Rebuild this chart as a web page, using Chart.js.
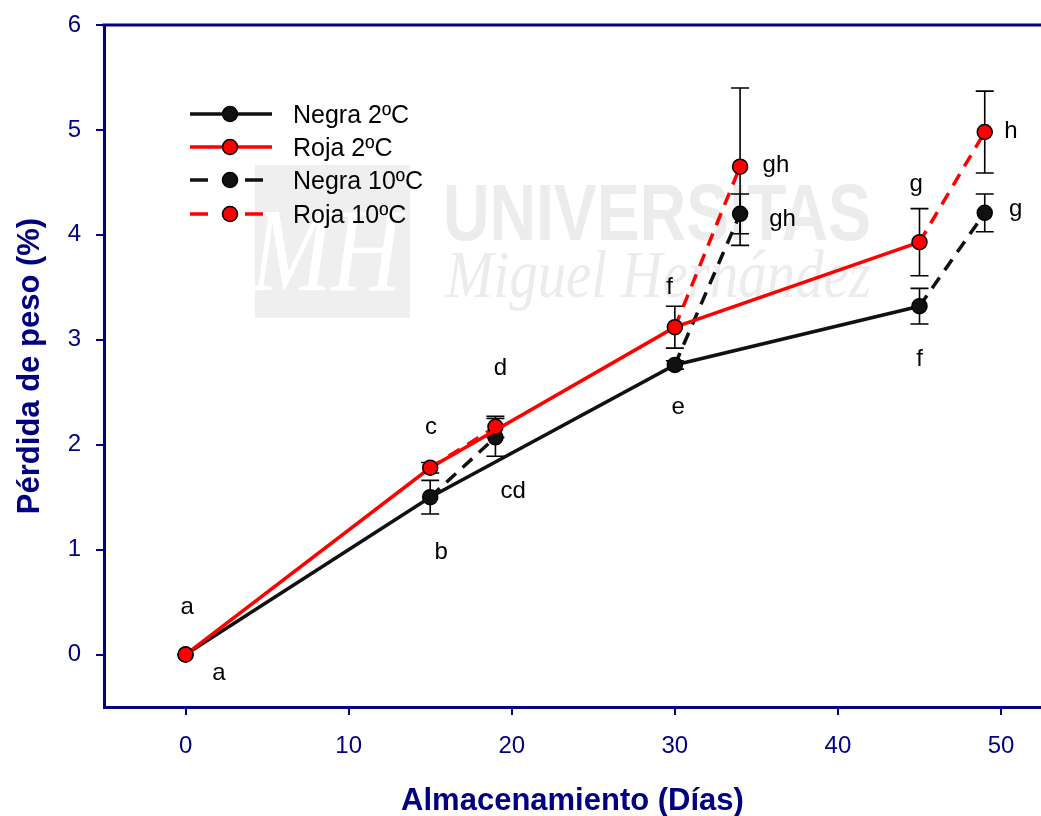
<!DOCTYPE html>
<html>
<head>
<meta charset="utf-8">
<script src="https://cdn.jsdelivr.net/npm/chart.js@4.4.1/dist/chart.umd.min.js"></script>
<style>
  html, body { margin: 0; padding: 0; background: #fff; overflow: hidden; }
  canvas { display: block; }
</style>
</head>
<body>
<canvas id="chart" width="1041" height="816"></canvas>
<script>
// Storage days and weight loss (%) with standard errors
const days2 = [0, 15, 30, 45];
const days10 = [19, 34, 49];
const negra2 = [0, 1.50, 2.76, 3.32];
const negra2Err = [0, 0.16, 0.04, 0.17];
const roja2 = [0, 1.78, 3.12, 3.93];
const roja2Err = [0, 0.05, 0.20, 0.32];
const negra10 = [2.07, 4.20, 4.21];
const negra10Err = [0.18, 0.19, 0.18];
const roja10 = [2.17, 4.65, 4.98];
const roja10Err = [0.10, 0.75, 0.39];
const xTicks = [0, 10, 20, 30, 40, 50];
const yTicks = [0, 1, 2, 3, 4, 5, 6];
const seriesNames = ['Negra 2ºC', 'Roja 2ºC', 'Negra 10ºC', 'Roja 10ºC'];

// Significance letters placed in data coordinates
const letterText = ['a', 'a', 'c', 'b', 'd', 'cd', 'f', 'e', 'gh', 'gh', 'g', 'f', 'h', 'g'];
const letterX = [0.1, 2.05, 15.05, 15.67, 19.3, 20.08, 29.67, 30.2, 36.2, 36.6, 44.8, 45.0, 50.6, 50.9];
const letterY = [0.39, -0.24, 2.10, 0.915, 2.66, 1.49, 3.44, 2.29, 4.60, 4.08, 4.42, 2.75, 4.92, 4.18];

const NAVY = '#000080';
const BASE_FONT = '"Liberation Sans", Arial, sans-serif';

// 10ºC curves start from the 2ºC point of the previous sampling day
function dashedSeries(startVals, vals) {
  const out = [];
  for (let i = 0; i < days10.length; i++) {
    out.push({ x: days2[i + 1], y: startVals[i + 1], start: true });
    out.push({ x: days10[i], y: vals[i] });
    if (i < days10.length - 1) out.push({ x: days10[i], y: null });
  }
  return out;
}

const solidData = (vals) => days2.map((d, i) => ({ x: d, y: vals[i] }));
const radiusFn = (ctx) => (ctx.raw && ctx.raw.start ? 0 : 7.5);

const errorSets = [
  { xs: days2, ys: negra2, es: negra2Err },
  { xs: days2, ys: roja2, es: roja2Err },
  { xs: days10, ys: negra10, es: negra10Err },
  { xs: days10, ys: roja10, es: roja10Err }
];

const background = {
  id: 'background',
  beforeDraw(chart) {
    const ctx = chart.ctx;
    ctx.save();
    ctx.fillStyle = '#ffffff';
    ctx.fillRect(0, 0, chart.width, chart.height);
    ctx.restore();
  }
};

const watermark = {
  id: 'watermark',
  beforeDatasetsDraw(chart) {
    const ctx = chart.ctx;
    ctx.save();
    ctx.fillStyle = '#efefef';
    ctx.fillRect(255, 165, 155, 153);
    ctx.fillStyle = '#ffffff';
    ctx.font = 'italic 118px "Liberation Serif", serif';
    ctx.textAlign = 'center';
    ctx.textBaseline = 'alphabetic';
    ctx.fillText('MH', 326, 290, 150);
    ctx.fillStyle = '#ececec';
    ctx.textAlign = 'left';
    ctx.font = 'bold 80px ' + BASE_FONT;
    ctx.fillText('UNIVERSITAS', 443, 240, 428);
    ctx.font = 'italic 68px "Liberation Serif", serif';
    ctx.fillText('Miguel Hernández', 446, 297, 425);
    ctx.restore();
  }
};

const errorBars = {
  id: 'errorBars',
  beforeDatasetsDraw(chart) {
    const ctx = chart.ctx;
    const xs = chart.scales.x, ys = chart.scales.y;
    ctx.save();
    ctx.strokeStyle = '#000';
    ctx.lineWidth = 1.6;
    errorSets.forEach(s => {
      s.xs.forEach((d, i) => {
        if (!s.es[i]) return;
        const px = xs.getPixelForValue(d);
        const top = ys.getPixelForValue(s.ys[i] + s.es[i]);
        const bot = ys.getPixelForValue(s.ys[i] - s.es[i]);
        ctx.beginPath();
        ctx.moveTo(px, top); ctx.lineTo(px, bot);
        ctx.moveTo(px - 9, top); ctx.lineTo(px + 9, top);
        ctx.moveTo(px - 9, bot); ctx.lineTo(px + 9, bot);
        ctx.stroke();
      });
    });
    ctx.restore();
  }
};

const frameAndText = {
  id: 'frameAndText',
  afterDraw(chart) {
    const ctx = chart.ctx;
    const area = chart.chartArea;
    const xs = chart.scales.x, ys = chart.scales.y;
    ctx.save();
    // top frame line
    ctx.strokeStyle = NAVY;
    ctx.lineWidth = 3;
    ctx.beginPath();
    ctx.moveTo(area.left - 1.5, area.top);
    ctx.lineTo(chart.width, area.top);
    ctx.stroke();

    // significance letters
    ctx.fillStyle = '#000';
    ctx.font = '24px ' + BASE_FONT;
    ctx.textAlign = 'center';
    ctx.textBaseline = 'alphabetic';
    letterText.forEach((t, i) => {
      ctx.fillText(t, xs.getPixelForValue(letterX[i]), ys.getPixelForValue(letterY[i]));
    });

    // axis titles
    ctx.fillStyle = NAVY;
    ctx.font = 'bold 31px ' + BASE_FONT;
    ctx.textBaseline = 'middle';
    ctx.fillText('Almacenamiento (Días)', (area.left + area.right) / 2, 801);
    ctx.save();
    ctx.translate(30, (area.top + area.bottom) / 2);
    ctx.rotate(-Math.PI / 2);
    ctx.fillText('Pérdida de peso (%)', 0, 0);
    ctx.restore();

    // legend
    const rows = [114, 147, 180, 214];
    chart.data.datasets.forEach((ds, i) => {
      const y = rows[i];
      ctx.strokeStyle = ds.borderColor;
      ctx.lineWidth = 3.5;
      ctx.beginPath();
      if (ds.borderDash && ds.borderDash.length) {
        ctx.moveTo(190, y); ctx.lineTo(208, y);
        ctx.moveTo(245, y); ctx.lineTo(263, y);
      } else {
        ctx.moveTo(190, y); ctx.lineTo(272, y);
      }
      ctx.stroke();
      ctx.beginPath();
      ctx.arc(230, y, 7.5, 0, Math.PI * 2);
      ctx.fillStyle = ds.pointBackgroundColor;
      ctx.fill();
      ctx.lineWidth = 1.5;
      ctx.strokeStyle = '#000';
      ctx.stroke();
      ctx.fillStyle = '#000';
      ctx.font = '25px ' + BASE_FONT;
      ctx.textAlign = 'left';
      ctx.textBaseline = 'alphabetic';
      ctx.fillText(ds.label, 293, y + 9);
    });
    ctx.restore();
  }
};

new Chart(document.getElementById('chart'), {
  type: 'line',
  data: {
    datasets: [
      {
        label: seriesNames[0], data: solidData(negra2), order: 3,
        borderColor: '#111111', borderWidth: 3.5,
        pointBackgroundColor: '#111111', pointBorderColor: '#000', pointBorderWidth: 1.5,
        pointRadius: 7.5
      },
      {
        label: seriesNames[1], data: solidData(roja2), order: 1,
        borderColor: '#ff0000', borderWidth: 3.5,
        pointBackgroundColor: '#ff0000', pointBorderColor: '#000', pointBorderWidth: 1.5,
        pointRadius: 7.5
      },
      {
        label: seriesNames[2], data: dashedSeries(negra2, negra10), order: 4,
        borderColor: '#111111', borderWidth: 3.5, borderDash: [13, 9], spanGaps: false,
        pointBackgroundColor: '#111111', pointBorderColor: '#000', pointBorderWidth: 1.5,
        pointRadius: radiusFn
      },
      {
        label: seriesNames[3], data: dashedSeries(roja2, roja10), order: 2,
        borderColor: '#ff0000', borderWidth: 3.5, borderDash: [13, 9], spanGaps: false,
        pointBackgroundColor: '#ff0000', pointBorderColor: '#000', pointBorderWidth: 1.5,
        pointRadius: radiusFn
      }
    ]
  },
  options: {
    responsive: false,
    animation: false,
    devicePixelRatio: 1,
    layout: { autoPadding: false, padding: { top: 25, right: 0, left: 0, bottom: 0 } },
    plugins: { legend: { display: false }, tooltip: { enabled: false } },
    elements: { line: { tension: 0 } },
    scales: {
      x: {
        type: 'linear', min: -5, max: 52.45,
        afterBuildTicks: (axis) => { axis.ticks = xTicks.map(v => ({ value: v })); },
        afterFit: (axis) => {
          axis.height = 109;
          axis.paddingLeft = 0; axis.paddingRight = 0;
        },
        grid: { drawOnChartArea: false, drawTicks: true, tickLength: 8, color: NAVY, lineWidth: 2 },
        border: { display: true, color: NAVY, width: 3 },
        ticks: { color: NAVY, font: { size: 24, family: BASE_FONT }, padding: 17, maxRotation: 0 }
      },
      y: {
        type: 'linear', min: -0.5, max: 6,
        afterBuildTicks: (axis) => { axis.ticks = yTicks.map(v => ({ value: v })); },
        afterFit: (axis) => {
          axis.width = 104;
          axis.paddingTop = 0; axis.paddingBottom = 0;
        },
        grid: { drawOnChartArea: false, drawTicks: true, tickLength: 8, color: NAVY, lineWidth: 2 },
        border: { display: true, color: NAVY, width: 3 },
        ticks: { color: NAVY, font: { size: 24, family: BASE_FONT }, padding: 15 }
      }
    }
  },
  plugins: [background, watermark, errorBars, frameAndText]
});
</script>
</body>
</html>
